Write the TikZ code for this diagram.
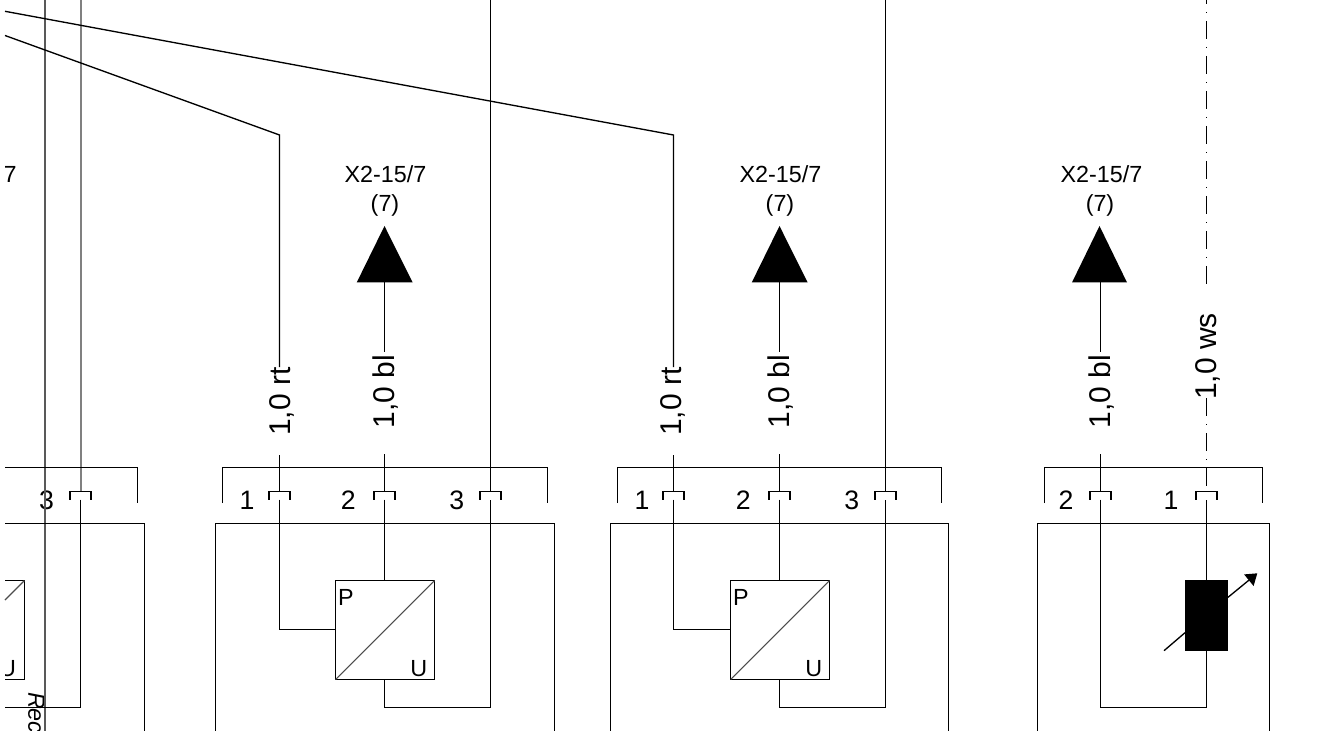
\documentclass[tikz,border=0pt]{standalone}
\usepackage{fontspec}
\setmainfont{Liberation Sans}
\usetikzlibrary{arrows.meta,calc}
\newcommand{\lblA}{\fontsize{17.5pt}{20pt}\selectfont}
\newcommand{\lblB}{\fontsize{22.5pt}{24pt}\selectfont}
\newcommand{\lblC}{\fontsize{20pt}{22pt}\selectfont}
% socket bracket at pin x = #1, name #2
\newcommand{\pinat}[2]{%
  \coordinate (#2t) at (#1,491.5);
  \coordinate (#2b) at (#1,499.5);
  \draw[wire] ($(#2t)+(-10.5,8)$) -- ($(#2t)+(-10.5,0)$) -- ($(#2t)+(10.5,0)$) -- ($(#2t)+(10.5,8)$);
}
\tikzset{
  wire/.style={line width=1pt,line cap=butt,black},
  diag/.style={line width=0.8pt,black!70},
  txt/.style={inner sep=0pt,outer sep=0pt,text=black},
  vlabel/.style={txt,rotate=90,font=\lblB,anchor=base},
}
\begin{document}
\begin{tikzpicture}[x=0.75pt,y=-0.75pt]
\useasboundingbox (0,0) rectangle (1322,731);
% ---------- left partial module ----------
\begin{scope}
\clip (5,0) rectangle (200,731);
\node[txt,font=\lblA,anchor=east] (lau) at (16,668.3) {U};
\node[txt,font=\lblA,anchor=east] (la7) at (16.7,174) {7};
\end{scope}
\node[txt,font=\lblA\itshape,rotate=-90,anchor=base west] (larec) at (28.5,692) {Rec};
\node[txt,font=\lblC] (la3) at (46.5,500.5) {3};
\draw[line width=1.1pt,black!65] (45,0) -- (45,731);
\draw[line width=1.1pt,black!50] (81,0) -- (81,491.5);
\pinat{80.5}{la}
\draw[wire] (lab) -- (80.5,707.5) -- (5,707.5);
\draw[wire] (5,467.5) -- (137.5,467.5) -- (137.5,503);
\draw[wire] (5,523.5) -- (144.5,523.5) -- (144.5,731);
\draw[wire] (5,580.5) -- (24.5,580.5) -- (24.5,679.5) -- (5,679.5);
\draw[diag] (24.5,580.5) -- (5,600);
% ---------- long diagonals ----------
\coordinate (d1) at (279.5,135);
\coordinate (d2) at (673.5,135);
\draw[wire] (5,35.5) -- (d1) -- (279.5,367);
\draw[wire] (5,11.3) -- (d2) -- (673.5,367);
% ---------- module 1 ----------
\draw[wire] (222.5,503) -- (222.5,467.5) -- (547.5,467.5) -- (547.5,503);
\draw[wire] (215.5,731) -- (215.5,523.5) -- (554.5,523.5) -- (554.5,731);
\pinat{279.5}{aa}\pinat{384.5}{ab}\pinat{490.5}{ac}
\draw[wire] (279.5,455) -- (aat);
\draw[wire] (384.5,454) -- (abt);
\draw[wire] (490.5,0) -- (act);
\node[txt,font=\lblC] (a1) at (247,500.5) {1};
\node[txt,font=\lblC] (a2) at (348.3,500.5) {2};
\node[txt,font=\lblC] (a3) at (456.7,500.5) {3};
\draw[wire,fill=white] (335.5,580.5) rectangle (434.5,679.5);
\draw[diag] (335.5,679.5) -- (434.5,580.5);
\node[txt,font=\lblA] (ap) at (345.8,597) {P};
\node[txt,font=\lblA] (au) at (418.8,668.3) {U};
\draw[wire] (aab) -- (279.5,629.5) -- (335.5,629.5);
\draw[wire] (abb) -- (384.5,580.5);
\draw[wire] (384.5,679.5) -- (384.5,707.5) -- (490.5,707.5) -- (acb);
\node[vlabel] (alr) at (290.7,401.5) {1,0 rt};
\node[vlabel] (alb) at (394,391.5) {1,0 bl};
\node[txt,font=\lblA] (ax) at (385.5,174) {X2-15/7};
\node[txt,font=\lblA] (ay) at (385,205) {(7)};
\fill (384.5,226) -- (412.7,282.5) -- (356.7,282.5) -- cycle;
\draw[wire] (384.5,282) -- (384.5,352);
% ---------- module 2 ----------
\draw[wire] (617.5,503) -- (617.5,467.5) -- (941.5,467.5) -- (941.5,503);
\draw[wire] (610.5,731) -- (610.5,523.5) -- (948.5,523.5) -- (948.5,731);
\pinat{673.5}{ba}\pinat{779.5}{bb}\pinat{885.5}{bc}
\draw[wire] (673.5,455) -- (bat);
\draw[wire] (779.5,454) -- (bbt);
\draw[wire] (885.5,0) -- (bct);
\node[txt,font=\lblC] (b1) at (642,500.5) {1};
\node[txt,font=\lblC] (b2) at (743.3,500.5) {2};
\node[txt,font=\lblC] (b3) at (851.7,500.5) {3};
\draw[wire,fill=white] (730.5,580.5) rectangle (829.5,679.5);
\draw[diag] (730.5,679.5) -- (829.5,580.5);
\node[txt,font=\lblA] (bp) at (740.8,597) {P};
\node[txt,font=\lblA] (bu) at (813.8,668.3) {U};
\draw[wire] (bab) -- (673.5,629.5) -- (730.5,629.5);
\draw[wire] (bbb) -- (779.5,580.5);
\draw[wire] (779.5,679.5) -- (779.5,707.5) -- (885.5,707.5) -- (bcb);
\node[vlabel] (blr) at (681.7,401.5) {1,0 rt};
\node[vlabel] (blb) at (789,391.5) {1,0 bl};
\node[txt,font=\lblA] (bx) at (780.5,174) {X2-15/7};
\node[txt,font=\lblA] (by) at (780,205) {(7)};
\fill (779.5,226) -- (807.7,282.5) -- (751.7,282.5) -- cycle;
\draw[wire] (779.5,282) -- (779.5,352);
% ---------- module 3 ----------
\draw[wire] (1044.5,503) -- (1044.5,467.5) -- (1262.5,467.5) -- (1262.5,503);
\draw[wire] (1037.5,731) -- (1037.5,523.5) -- (1269.5,523.5) -- (1269.5,731);
\pinat{1100.5}{ca}\pinat{1206.5}{cb}
\draw[wire] (1100.5,454) -- (cat);
\draw[wire] (cab) -- (1100.5,707.5) -- (1206.5,707.5) -- (cbb);
\node[txt,font=\lblC] (c2) at (1066,500.5) {2};
\node[txt,font=\lblC] (c1) at (1171,500.5) {1};
\fill (1185,580) rectangle (1228,650.7);
\draw[wire] (1164,650.7) -- (1185,632.7);
\draw[wire,-{Triangle[length=8.2pt,width=11pt]}] (1228,597.3) -- (1257.3,573.3);
\draw[line width=1.2pt,dash pattern=on 13.5pt off 6pt on 0.75pt off 6pt] (1206.5,-14) -- (1206.5,285);
\draw[wire,dash pattern=on 13.5pt off 6pt on 0.75pt off 6pt] (1206.5,398) -- (1206.5,487);
\node[vlabel] (clb) at (1110.3,391.5) {1,0 bl};
\node[vlabel] (cls) at (1216.7,356.5) {1,0 ws};
\node[txt,font=\lblA] (cx) at (1101.5,174) {X2-15/7};
\node[txt,font=\lblA] (cy) at (1100,205) {(7)};
\fill (1099.5,226) -- (1127,282.5) -- (1072,282.5) -- cycle;
\draw[wire] (1100.5,282) -- (1100.5,352);
\end{tikzpicture}
\end{document}
